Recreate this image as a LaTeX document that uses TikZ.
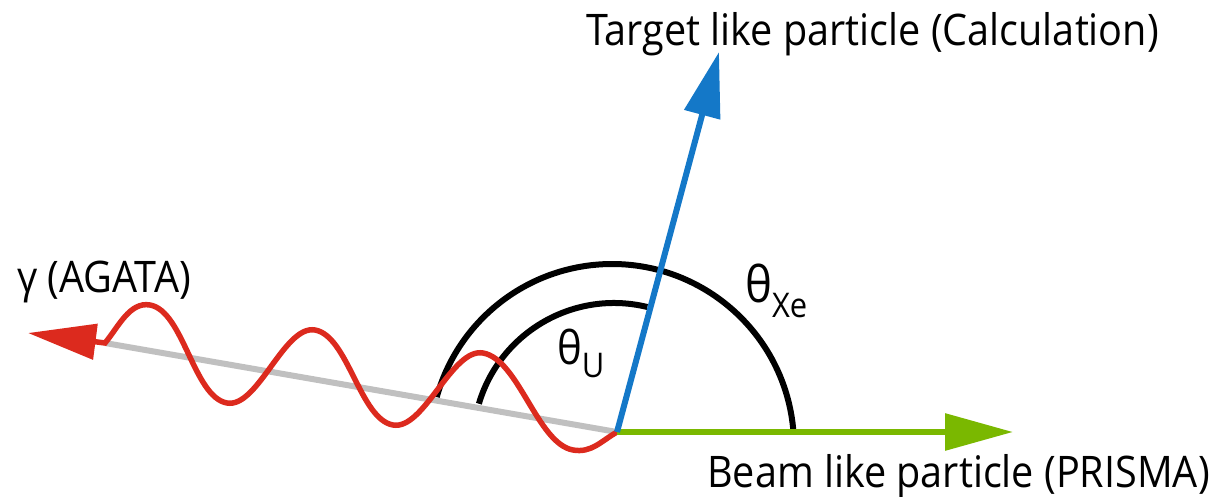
\documentclass[tikz,border=0pt]{standalone}
\usepackage{fontspec}
\setmainfont{Open Sans}[FakeStretch=0.91]
\usetikzlibrary{arrows.meta,calc}
\definecolor{beamgreen}{RGB}{122,184,0}
\definecolor{tgtblue}{RGB}{20,120,200}
\definecolor{gamred}{RGB}{220,42,30}
\definecolor{axgray}{RGB}{192,192,192}
\begin{document}
\begin{tikzpicture}[x=1pt,y=1pt,
  lbl/.style={font=\fontsize{43.5}{50}\selectfont, inner sep=0pt, anchor=base west},
  anglbl/.style={inner sep=0pt, anchor=base west},
  arcline/.style={black, line width=6pt},
  wave/.style={gamred, line width=5.5pt, looseness=0.7}]
\useasboundingbox (0,0) rectangle (1210,496);
\coordinate (O) at (617,64);
\coordinate (G) at (1013,64);
\coordinate (B) at (719,444);
\coordinate (Y) at (105,153);
\coordinate (Ytip) at (28,163);
\coordinate (w1) at (573,46);
\coordinate (w2) at (483,143);
\coordinate (w3) at (393,71);
\coordinate (w4) at (315,166);
\coordinate (w5) at (227,93);
\coordinate (w6) at (150,191);
\coordinate (Ao) at ($(612,50)+(4.4:182)$);
\coordinate (Ai) at ($(614,52)+(76.3:141)$);
% angle arcs
\draw[arcline] (Ao) arc[start angle=4.4, end angle=164.4, radius=182];
\draw[arcline] (Ai) arc[start angle=76.3, end angle=163.4, radius=141];
% gamma axis
\draw[axgray, line width=6pt] (O) -- (Y);
% gamma wave
\draw[wave, -{Triangle[length=68pt,width=35pt]}]
  (O) to[out=210,in=-10,looseness=1] (w1)
  to[out=170,in=-10] (w2)
  to[out=170,in=-10] (w3)
  to[out=170,in=-10] (w4)
  to[out=170,in=-10] (w5)
  to[out=170,in=-10] (w6)
  to[out=170,in=50,looseness=0.9] (Y) -- (Ytip);
% beam and target
\draw[beamgreen, line width=6pt, -{Triangle[length=68pt,width=36pt]}] (O) -- (G);
\draw[tgtblue, line width=6pt, -{Triangle[length=65pt,width=36pt]}] (O) -- (B);
% labels
\node[lbl] (tl) at (586,450) {Target like particle (Calculation)};
\node[lbl] (bl) at (707,9) {Beam like particle (PRISMA)};
\node[lbl] (gl) at (17,204) {γ (AGATA)};
\node[anglbl] (txe) at (745,194) {\fontsize{50}{50}\selectfont θ\raisebox{-16pt}{\fontsize{34}{34}\selectfont Xe}};
\node[anglbl] (tu) at (557,132) {\fontsize{46}{46}\selectfont θ\raisebox{-13pt}{\fontsize{34}{34}\selectfont U}};
\end{tikzpicture}
\end{document}
